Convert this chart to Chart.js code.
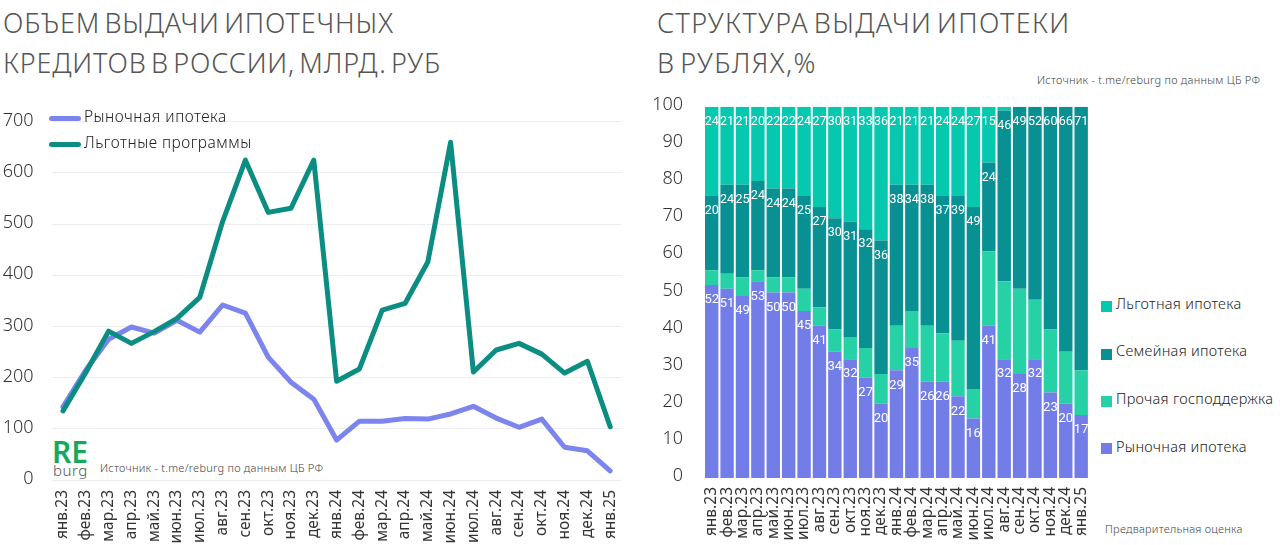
<!DOCTYPE html>
<html lang="ru">
<head>
<meta charset="utf-8">
<title>Ипотека</title>
<script src="https://cdn.jsdelivr.net/npm/chart.js@4"></script>
<style>
  html, body { margin: 0; padding: 0; background: #fff; }
  body { position: relative; width: 1280px; height: 545px; overflow: hidden; font-family: "Noto Sans", sans-serif; color: #333; }
  canvas { position: absolute; }
  .abs { position: absolute; white-space: nowrap; }
  .title { font-size: 27px; font-weight: 300; line-height: 40px; letter-spacing: 0.85px; word-spacing: -3.5px; color: #555; white-space: pre; }
  .source { font-size: 11px; font-weight: 300; color: #444; letter-spacing: 0.25px; }
  .leg { font-size: 15.5px; line-height: 20px; font-weight: 300; letter-spacing: 0.5px; color: #222; }
  .leg.small { font-size: 14.5px; letter-spacing: 0.3px; }
  .mark { position: absolute; border-radius: 3px; }
</style>
</head>
<body>
<div class="abs title" style="left:3px;top:3px">ОБЪЕМ ВЫДАЧИ ИПОТЕЧНЫХ
КРЕДИТОВ В РОССИИ, МЛРД. РУБ</div>
<div class="abs title" style="left:657px;top:3px;letter-spacing:1.35px">СТРУКТУРА ВЫДАЧИ ИПОТЕКИ
В РУБЛЯХ,%</div>
<div class="abs source" style="left:1037px;top:72px">Источник - t.me/reburg по данным ЦБ РФ</div>
<div class="abs source" style="left:100px;top:460px">Источник - t.me/reburg по данным ЦБ РФ</div>
<div class="abs source" style="left:1105px;top:521px">Предварительная оценка</div>
<div class="abs" style="left:52px;top:434px;font-size:30px;line-height:36px;font-weight:600;color:#17a85c">RE</div>
<div class="abs" style="left:53px;top:460px;font-size:15px;line-height:20px;font-weight:300;color:#555;letter-spacing:.5px">burg</div>

<canvas id="chart-volume" style="left:0;top:93px"></canvas>
<canvas id="chart-structure" style="left:640px;top:75px"></canvas>

<script>
// ---- data ----
const months = ["янв.23","фев.23","мар.23","апр.23","май.23","июн.23","июл.23","авг.23","сен.23","окт.23","ноя.23","дек.23",
                "янв.24","фев.24","мар.24","апр.24","май.24","июн.24","июл.24","авг.24","сен.24","окт.24","ноя.24","дек.24","янв.25"];

const volumeMarket = [143,215,275,299,287,312,289,342,326,240,191,158,78,115,115,120,119,129,144,121,103,119,64,57,18];
const volumePrograms = [135,210,291,267,290,316,357,505,625,523,531,625,193,217,332,345,426,660,211,254,267,246,209,232,104];

const shareMarket = [52,51,49,53,50,50,45,41,34,32,27,20,29,35,26,26,22,16,41,32,28,32,23,20,17];
const shareOther = [4,4,5,3,4,4,6,5,6,6,8,8,12,10,15,13,15,8,20,21,23,16,17,14,12];
const shareFamily = [20,24,25,24,24,24,25,27,30,31,32,36,38,34,38,37,39,49,24,46,49,52,60,66,71];
const sharePreferential = [24,21,21,20,22,22,24,27,30,31,33,36,21,21,21,24,24,27,15,1,0,0,0,0,0];

const volumeNames = ["Рыночная ипотека", "Льготные программы"];
const structureNames = ["Рыночная ипотека", "Прочая господдержка", "Семейная ипотека", "Льготная ипотека"];

const colorMarketLine = "#7c85ee";
const colorProgramsLine = "#0b8d82";
const structureColors = ["#727de8", "#25d1a5", "#089092", "#06c8ae"];

// ---- helpers ----
function setupCanvas(id, w, h) {
    const c = document.getElementById(id);
    c.style.width = w + "px";
    c.style.height = h + "px";
    c.width = w;
    c.height = h;
    return c;
}

function addLegendItem(text, markCss, textX, textY, extraClass) {
    const mark = document.createElement("div");
    mark.className = "mark";
    mark.style.cssText = markCss;
    document.body.appendChild(mark);
    const label = document.createElement("div");
    label.className = "abs leg " + (extraClass || "");
    label.style.left = textX + "px";
    label.style.top = textY + "px";
    label.textContent = text;
    document.body.appendChild(label);
}

const tickFont = { family: "'Noto Sans'", size: 18, weight: "300" };
const monthFont = { family: "'Noto Sans'", size: 15.5, weight: "400" };

// подписи значений внутри сегментов (плагин datalabels не подключаем)
const segmentLabels = {
    id: "segmentLabels",
    afterDatasetsDraw(chart) {
        const ctx = chart.ctx;
        ctx.save();
        ctx.textAlign = "center";
        ctx.textBaseline = "middle";
        ctx.fillStyle = "#fff";
        chart.data.datasets.forEach((ds, i) => {
            if (ds.hideValues) return;
            ctx.font = "400 " + (i === 0 ? 13 : 12.5) + "px Roboto";
            chart.getDatasetMeta(i).data.forEach((bar, j) => {
                if (ds.data[j] < 5) return;
                ctx.fillText(ds.data[j], bar.x, bar.y + 15);
            });
        });
        ctx.restore();
    }
};

// ---- левый график ----
new Chart(setupCanvas("chart-volume", 640, 452), {
    type: "line",
    data: {
        labels: months,
        datasets: [
            { label: volumeNames[0], data: volumeMarket, borderColor: colorMarketLine, order: 2 },
            { label: volumeNames[1], data: volumePrograms, borderColor: colorProgramsLine, order: 1 }
        ]
    },
    options: {
        responsive: false,
        animation: false,
        layout: { autoPadding: false, padding: { top: 0, right: 18.4, left: 0, bottom: 0 } },
        elements: {
            point: { radius: 0 },
            line: { borderWidth: 5, tension: 0, borderCapStyle: "round", borderJoinStyle: "round" }
        },
        plugins: { legend: { display: false }, tooltip: { enabled: false } },
        scales: {
            x: {
                offset: true,
                grid: { display: false },
                border: { display: false },
                afterFit(s) { s.height = 65; },
                ticks: { autoSkip: false, minRotation: 90, maxRotation: 90, padding: 2, color: "#333", font: monthFont }
            },
            y: {
                min: 0,
                max: 700,
                grid: { color: "#eeeeee", drawTicks: false },
                border: { display: false },
                afterFit(s) { s.width = 51.6; },
                ticks: { stepSize: 100, padding: 18, labelOffset: -1, color: "#333", font: tickFont }
            }
        }
    }
});

// ---- правый график ----
new Chart(setupCanvas("chart-structure", 461, 470), {
    type: "bar",
    data: {
        labels: months,
        datasets: [
            { label: structureNames[0], data: shareMarket, backgroundColor: structureColors[0] },
            { label: structureNames[1], data: shareOther, backgroundColor: structureColors[1], hideValues: true },
            { label: structureNames[2], data: shareFamily, backgroundColor: structureColors[2] },
            { label: structureNames[3], data: sharePreferential, backgroundColor: structureColors[3] }
        ]
    },
    options: {
        responsive: false,
        animation: false,
        layout: { autoPadding: false, padding: { top: 0, right: 11, left: 0, bottom: 0 } },
        datasets: { bar: { barPercentage: 0.87, categoryPercentage: 1 } },
        plugins: { legend: { display: false }, tooltip: { enabled: false } },
        scales: {
            x: {
                stacked: true,
                grid: { display: false },
                border: { display: false },
                afterFit(s) { s.height = 67; },
                ticks: { autoSkip: false, minRotation: 90, maxRotation: 90, padding: 1, color: "#333", font: monthFont }
            },
            y: {
                stacked: true,
                min: 0,
                max: 100,
                grid: { display: false, drawTicks: false },
                border: { display: false },
                afterFit(s) { s.width = 64; },
                ticks: { stepSize: 10, padding: 21, labelOffset: -2, color: "#333", font: tickFont }
            }
        }
    },
    plugins: [segmentLabels]
});

// ---- легенды ----
addLegendItem(volumeNames[0], "left:49px;top:115.5px;width:32px;height:5px;background:" + colorMarketLine, 84, 106);
addLegendItem(volumeNames[1], "left:49px;top:141.5px;width:32px;height:5px;background:" + colorProgramsLine, 84, 132);

const swatchY = [301, 349, 396, 443];
const legendY = [293, 340, 388, 436];
[3, 2, 1, 0].forEach((s, i) => {
    addLegendItem(structureNames[s],
        "left:1101px;top:" + swatchY[i] + "px;width:11px;height:11px;border-radius:0;background:" + structureColors[s],
        1116, legendY[i], "small");
});
</script>
</body>
</html>
